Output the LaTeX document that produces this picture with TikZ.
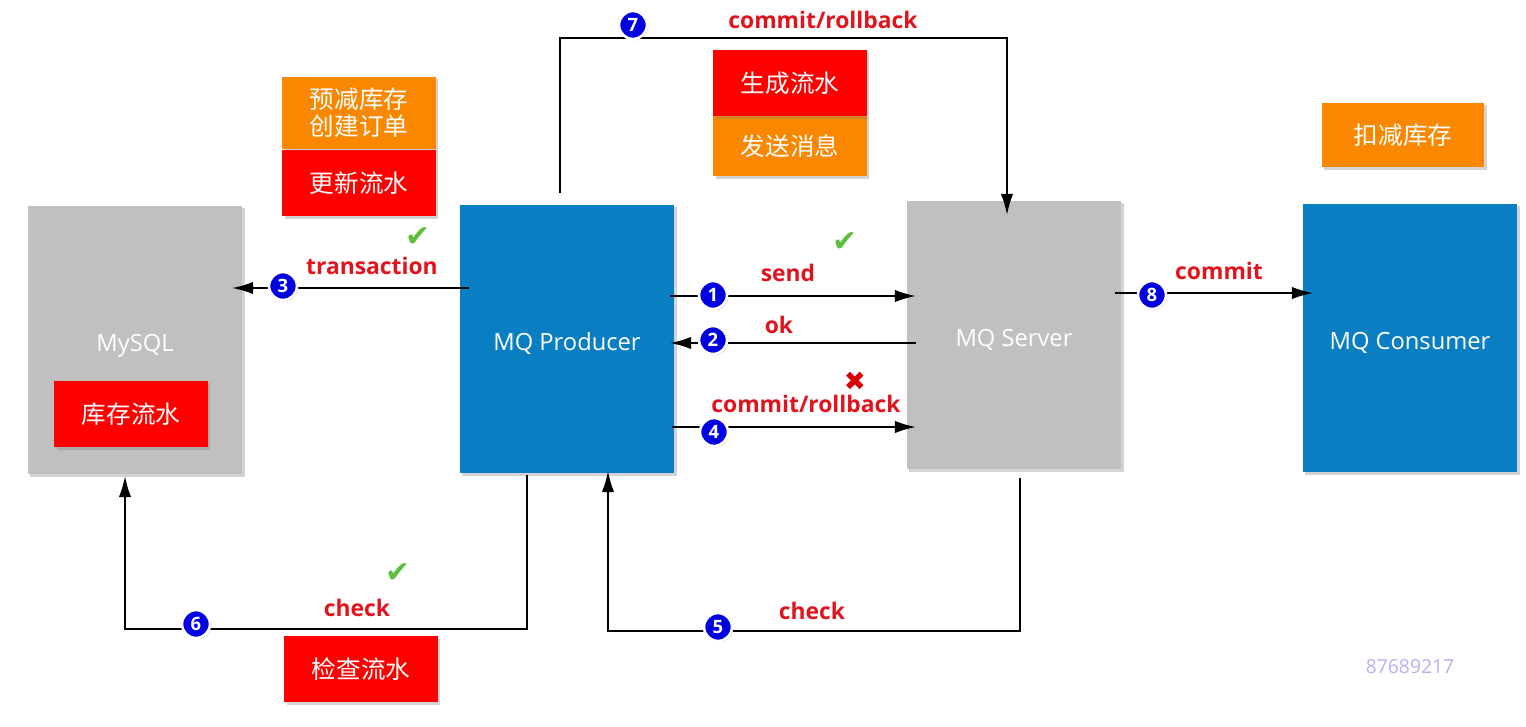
\documentclass[tikz,border=0pt]{standalone}
\usepackage{fontspec}
\setmainfont{Open Sans}
\newfontfamily\cjk{Noto Sans CJK SC}
\newfontfamily\sym{DejaVu Sans}
\usetikzlibrary{arrows.meta,shadows}
\definecolor{boxblue}{RGB}{10,126,194}
\definecolor{boxgray}{RGB}{192,192,192}
\definecolor{boxred}{RGB}{255,0,0}
\definecolor{boxorange}{RGB}{250,135,0}
\definecolor{numblue}{RGB}{0,0,225}
\definecolor{lblred}{RGB}{225,20,30}
\definecolor{okgreen}{RGB}{95,190,60}
\definecolor{wmark}{RGB}{185,175,240}

\begin{document}
\begin{tikzpicture}[x=0.02cm,y=-0.02cm,
   every node/.style={inner sep=0pt},
   comp/.style={minimum width=4.29cm,minimum height=5.38cm,text=white,
     font=\fontsize{13.5}{16}\selectfont,text height=16pt,text depth=3pt,
     drop shadow={opacity=0.35,shadow xshift=1.5pt,shadow yshift=-1.5pt}},
   tag/.style={minimum width=3.07cm,text=white,align=center,
     font=\cjk\fontsize{14}{15.5}\selectfont,
     drop shadow={opacity=0.35,shadow xshift=1.5pt,shadow yshift=-1.5pt}},
   num/.style={circle,fill=numblue,draw=white,line width=1.5pt,minimum size=0.56cm,
     text=white,font=\bfseries\fontsize{10.5}{10.5}\selectfont,
     drop shadow={opacity=0.3,shadow xshift=0.8pt,shadow yshift=-0.8pt}},
   lbl/.style={text=lblred,font=\bfseries\fontsize{13}{13}\selectfont},
   ok/.style={text=okgreen,font=\sym\fontsize{17}{17}\selectfont},
   arr/.style={-{Latex[length=12pt,width=7pt]},line width=1.1pt}]
\useasboundingbox (0,0) rectangle (1526,727);

% components
\node[comp,fill=boxgray] (mysql) at (135,340) {MySQL};
\node[comp,fill=boxblue] (prod) at (567,339) {MQ Producer};
\node[comp,fill=boxgray] (srv) at (1014,335) {MQ Server};
\node[comp,fill=boxblue] (cons) at (1410,338) {MQ Consumer};

% steps
\node[tag,fill=boxred,minimum height=1.34cm] (flow) at (131,414) {库存流水};
\node[tag,fill=boxorange,minimum height=1.46cm] (order) at (359,113) {预减库存\\创建订单};
\node[tag,fill=boxred,minimum height=1.34cm] (upd) at (359,183) {更新流水};
\node[tag,fill=boxorange,minimum height=1.22cm] (sendmsg) at (790,146) {发送消息};
\node[tag,fill=boxred,minimum height=1.32cm] (gen) at (790,83) {生成流水};
\node[tag,fill=boxorange,minimum width=3.26cm,minimum height=1.3cm] (deduct) at (1403,135) {扣减库存};
\node[tag,fill=boxred,minimum height=1.32cm] (chk) at (361,669) {检查流水};

% ends of connectors
\coordinate (s3) at (prod.west |- 0,288);
\coordinate (e3) at (232,288);
\coordinate (s1) at (670,296);
\coordinate (e1) at (916,296);
\coordinate (s2) at (916,343);
\coordinate (e2) at (670,343);
\coordinate (s4) at (672,427);
\coordinate (e4) at (916,427);
\coordinate (s8) at (1115,293);
\coordinate (e8) at (1313,293);
\coordinate (s7) at (560,193);
\coordinate (e7) at (1007,215);
\coordinate (s6) at (527,475);
\coordinate (e6) at (125,476);
\coordinate (s5) at (1020,478);
\coordinate (e5) at (608,471);

\draw[arr] ([xshift=0.2cm]s3) -- (e3);
\draw[arr] (s1) -- (e1);
\draw[arr] (s2) -- (e2);
\draw[arr] (s4) -- (e4);
\draw[arr] (s8) -- (e8);
\draw[arr] (s7) |- (e7 |- 0,38) -- (e7);
\draw[arr] (s6) -- (s6 |- 0,629) -| (e6);
\draw[arr] (s5) -- (s5 |- 0,631) -| (e5);

% numbers
\node[num] (n1) at (713,295) {1};
\node[num] (n2) at (713,340) {2};
\node[num] (n3) at (283,286) {3};
\node[num] (n4) at (714,432) {4};
\node[num] (n5) at (718,627) {5};
\node[num] (n6) at (196,624) {6};
\node[num] (n7) at (633,25) {7};
\node[num] (n8) at (1152,295) {8};

% labels
\node[lbl] (ltrans) at (372,266) {transaction};
\node[lbl] (lsend) at (788,273) {send};
\node[lbl] (lok) at (779,325) {ok};
\node[lbl] (lcr) at (806,404) {commit/rollback};
\node[lbl] (lcommit) at (1219,271) {commit};
\node[lbl] (lcr7) at (823,20) {commit/rollback};
\node[lbl] (lchk6) at (357,608) {check};
\node[lbl] (lchk5) at (812,611) {check};

\node[ok] (ok3) at (418,237) {✔};
\node[ok] (ok1) at (845,242) {✔};
\node[ok] (ok6) at (398,573) {✔};
\node[text=red!85!black,font=\sym\fontsize{15}{15}\selectfont] (no4) at (855,381) {✖};

\node[text=wmark,font=\fontsize{11}{11}\selectfont] (wm) at (1410,667) {87689217};
\end{tikzpicture}
\end{document}
